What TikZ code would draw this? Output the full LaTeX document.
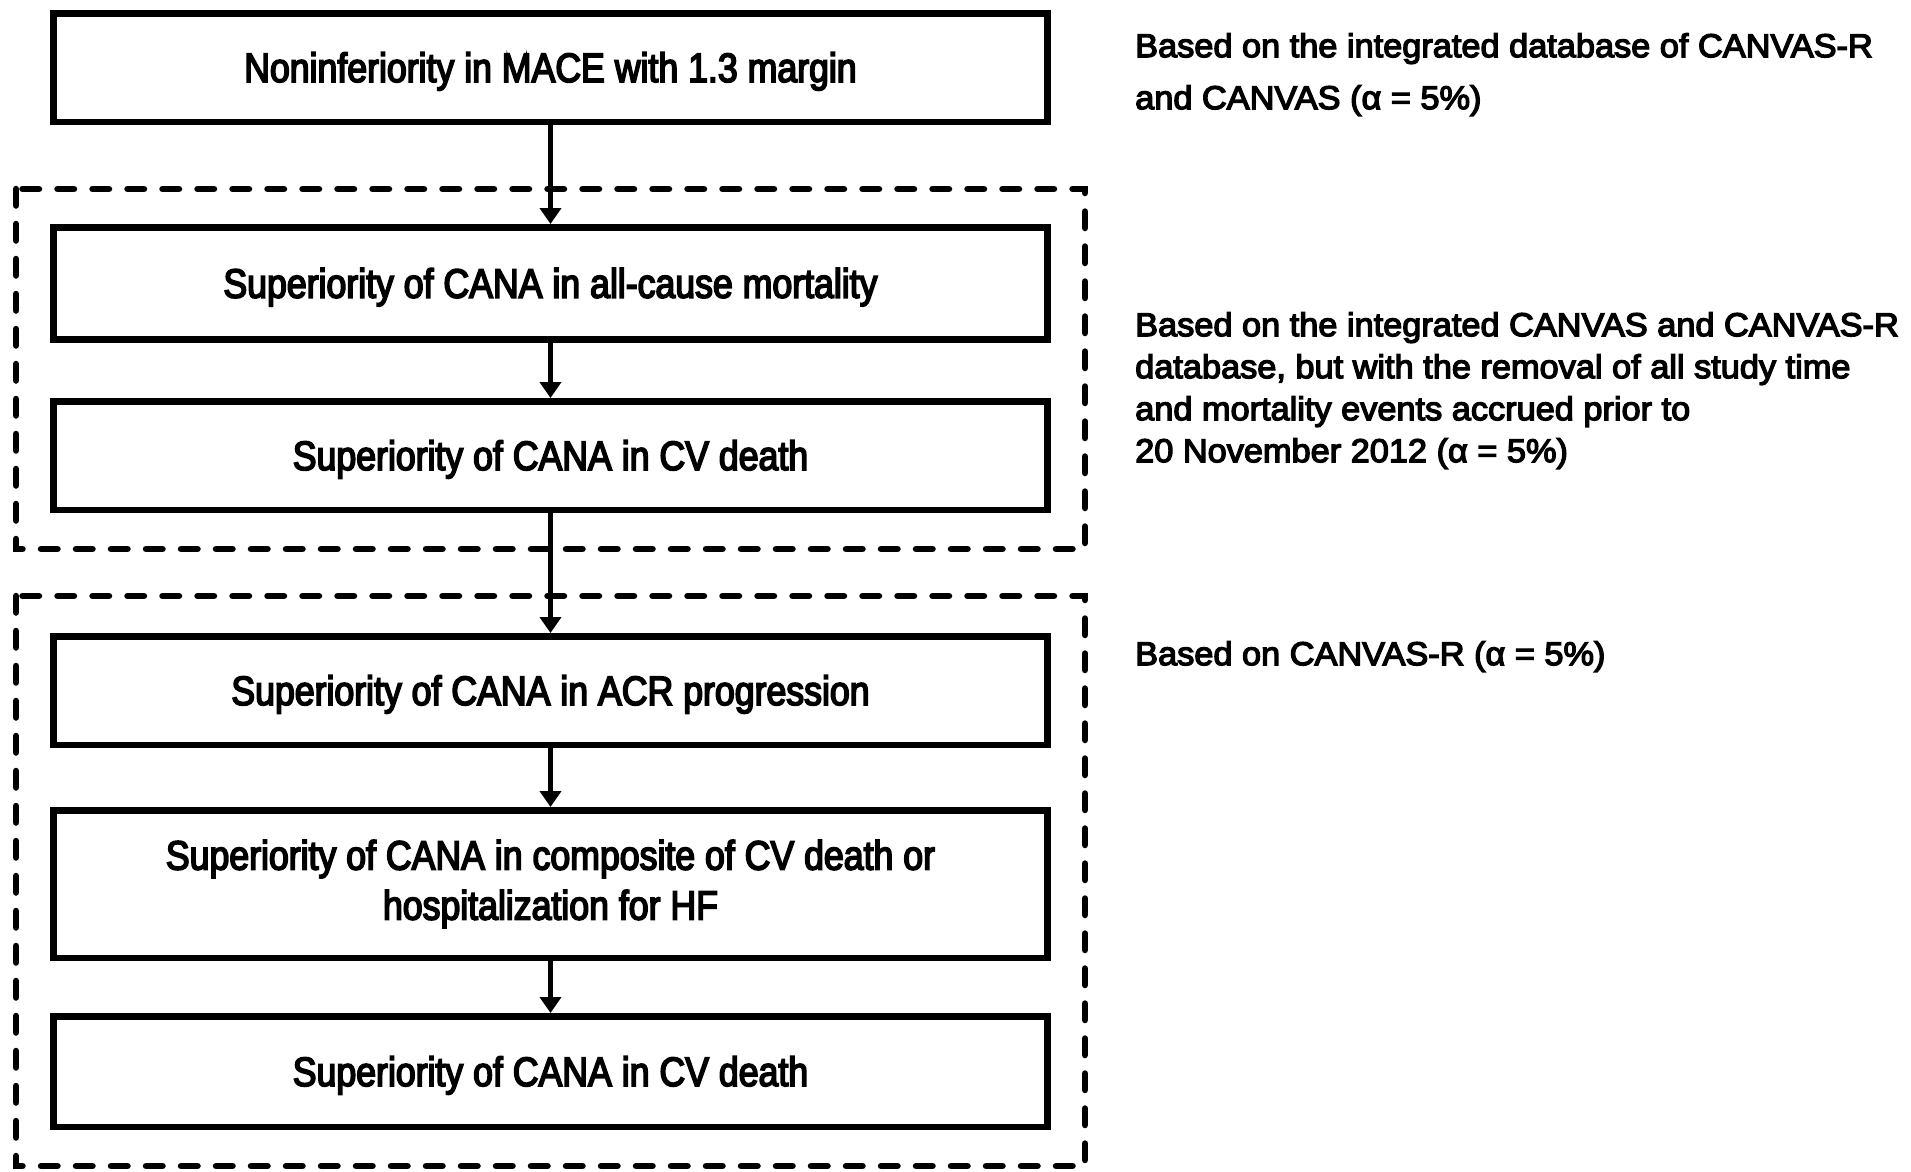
\documentclass[tikz,border=0pt]{standalone}
\usepackage{fontspec}
\setmainfont{Liberation Sans}
\newfontfamily\boxfont[FakeStretch=0.87,FakeBold=4]{Liberation Sans}
\newfontfamily\notefont[FakeStretch=1.04,FakeBold=4]{Liberation Sans}
\usetikzlibrary{arrows.meta}
\begin{document}
\begin{tikzpicture}[x=1pt,y=-1pt,
  stepbox/.style={draw,line width=6.5pt,minimum width=994pt,inner sep=0pt,
    font=\boxfont\fontsize{41}{50}\selectfont,align=center},
  oneline/.style={text height=29pt,text depth=0pt},
  groupbox/.style={draw,line width=6.5pt,line cap=round,dash pattern=on 16.5pt off 18.5pt},
  flow/.style={line width=4.5pt,-{Triangle[length=16pt,width=21pt]}},
  note/.style={anchor=north west,inner sep=0pt,align=left}]
\useasboundingbox (0,0) rectangle (1911,1171);
\fill[white] (0,0) rectangle (1911,1171);
% group frames
\draw[groupbox] (16,189) rectangle (1085,549);
\draw[groupbox] (16,596) rectangle (1085,1166);
% steps
\node[stepbox,oneline,minimum height=108.5pt] (b1) at (550.5,67.5) {Noninferiority in MACE with 1.3 margin};
\node[stepbox,oneline,minimum height=112pt] (b2) at (550.5,283.25) {Superiority of CANA in all-cause mortality};
\node[stepbox,oneline,minimum height=108.5pt] (b3) at (550.5,455.5) {Superiority of CANA in CV death};
\node[stepbox,oneline,minimum height=108.5pt] (b4) at (550.5,690.5) {Superiority of CANA in ACR progression};
\node[stepbox,minimum height=147.5pt,yshift=-4pt] (b5) at (550.5,880) {Superiority of CANA in composite of CV death or\\hospitalization for HF};
\node[stepbox,oneline,minimum height=110.5pt] (b6) at (550.5,1071.5) {Superiority of CANA in CV death};
% connectors
\draw[flow] (b1) -- (b2);
\draw[flow] (b2) -- (b3);
\draw[flow] (b3) -- (b4);
\draw[flow] (b4) -- (b5);
\draw[flow] (b5) -- (b6);
% notes
\node[note,font=\notefont\fontsize{33}{52}\selectfont] (n1) at (1135,33)
  {Based on the integrated database of CANVAS-R\\and CANVAS (α = 5\%)};
\node[note,font=\notefont\fontsize{33}{42}\selectfont] (n2) at (1135,312)
  {Based on the integrated CANVAS and CANVAS-R\\database, but with the removal of all study time\\and mortality events accrued prior to\\20 November 2012 (α = 5\%)};
\node[note,font=\notefont\fontsize{33}{42}\selectfont] (n3) at (1135,641)
  {Based on CANVAS-R (α = 5\%)};
\end{tikzpicture}
\end{document}
